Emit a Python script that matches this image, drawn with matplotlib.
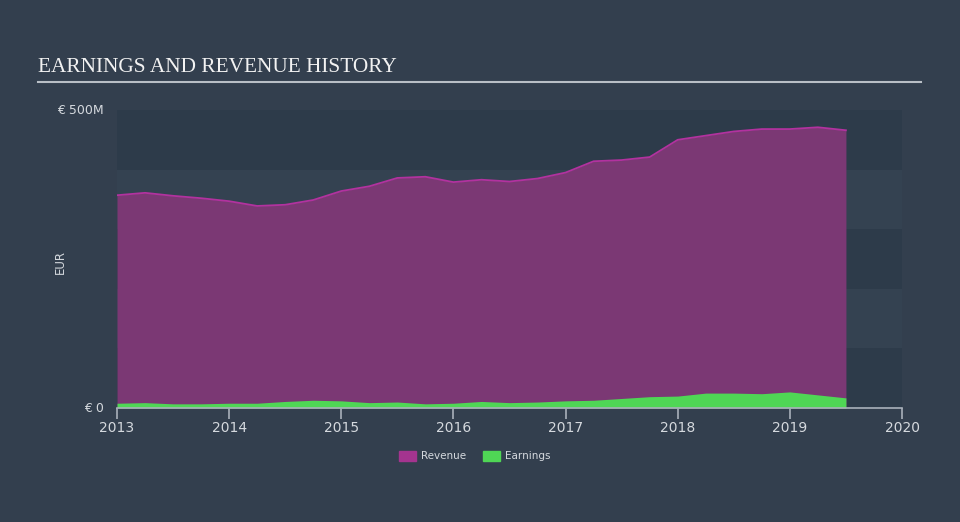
import matplotlib
matplotlib.use("Agg")
import matplotlib.pyplot as plt
from matplotlib.patches import Rectangle
from matplotlib.lines import Line2D

# ---- data (EUR millions) ----
years = [2013.00, 2013.25, 2013.50, 2013.75, 2014.00, 2014.25, 2014.50, 2014.75,
         2015.00, 2015.25, 2015.50, 2015.75, 2016.00, 2016.25, 2016.50, 2016.75,
         2017.00, 2017.25, 2017.50, 2017.75, 2018.00, 2018.25, 2018.50, 2018.75,
         2019.00, 2019.25, 2019.50]
revenue = [357, 361, 356, 352, 347, 339, 341, 349,
           364, 372, 386, 388, 379, 383, 380, 385,
           395, 414, 416, 421, 450, 457, 464, 468,
           468, 471, 466]
earnings = [8, 9, 7, 7, 8, 8, 11, 13,
            12, 9, 10, 7, 8, 11, 9, 10,
            12, 13, 16, 19, 20, 25, 25, 24,
            27, 22, 17]
xticks = [2013, 2014, 2015, 2016, 2017, 2018, 2019, 2020]
ytick_vals = [0, 500]
ytick_labels = ["€ 0", "€ 500M"]
title = "EARNINGS AND REVENUE HISTORY"
series_names = ["Revenue", "Earnings"]

BG = "#333f4e"
BAND_DARK = "#2d3b4a"
BAND_LIGHT = "#344251"
REV_FILL = "#7b3874"
REV_LINE = "#b2329f"
EARN = "#4fd655"
TXT = "#d5d9de"

fig = plt.figure(figsize=(9.6, 5.22), dpi=100)
fig.patch.set_facecolor(BG)

ax = fig.add_axes([117/960, 1-408/522, (902-117)/960, (408-110)/522])
ax.set_facecolor(BG)
ax.set_xlim(2013, 2020)
ax.set_ylim(0, 500)

# horizontal bands
for i in range(5):
    ax.axhspan(i*100, (i+1)*100, color=BAND_DARK if i % 2 == 0 else BAND_LIGHT,
               lw=0, zorder=0)

ax.fill_between(years, 0, revenue, color=REV_FILL, lw=0, zorder=2)
ax.plot(years, revenue, color=REV_LINE, lw=1.3, zorder=3,
        solid_joinstyle="round")
ax.fill_between(years, 0, earnings, color=EARN, lw=0, zorder=4)

for s in ["top", "right", "left"]:
    ax.spines[s].set_visible(False)
ax.spines["bottom"].set_color("#a9b1bb")
ax.spines["bottom"].set_linewidth(1.2)
ax.spines["bottom"].set_zorder(5)

ax.set_xticks(xticks)
ax.set_xticklabels([str(x) for x in xticks])
ax.tick_params(axis="x", colors="#a9b1bb", length=8, width=1.2, pad=1,
               labelsize=10, labelcolor=TXT)
ax.set_yticks([])

# y labels
for v, lab in zip(ytick_vals, ytick_labels):
    ax.text(-0.017, v, lab, transform=ax.get_yaxis_transform(),
            ha="right", va="center", fontsize=9, color=TXT)

fig.text(60/960, 1-262/522, "EUR", rotation=90, ha="center", va="center",
         fontsize=8.5, color=TXT)

# title
fig.text(38/960, 1-67/522, title, fontsize=15.3, color="#f2f2f2",
         family="Liberation Serif", ha="left", va="center")
fig.add_artist(Line2D([38/960, 921/960], [1-82/522, 1-82/522],
                      transform=fig.transFigure, color="#b9bfc6", lw=1.5))

# legend
handles = [Rectangle((0, 0), 1, 1, color="#a4348f"),
           Rectangle((0, 0), 1, 1, color=EARN)]
leg = fig.legend(handles, series_names, loc="center", bbox_to_anchor=(475/960, 1-456/522),
                 ncol=2, frameon=False, fontsize=7.5, handlelength=1.6, handleheight=1.1,
                 columnspacing=1.6, handletextpad=0.5)
for t in leg.get_texts():
    t.set_color(TXT)

fig.savefig("out.png", dpi=100, facecolor=BG)
